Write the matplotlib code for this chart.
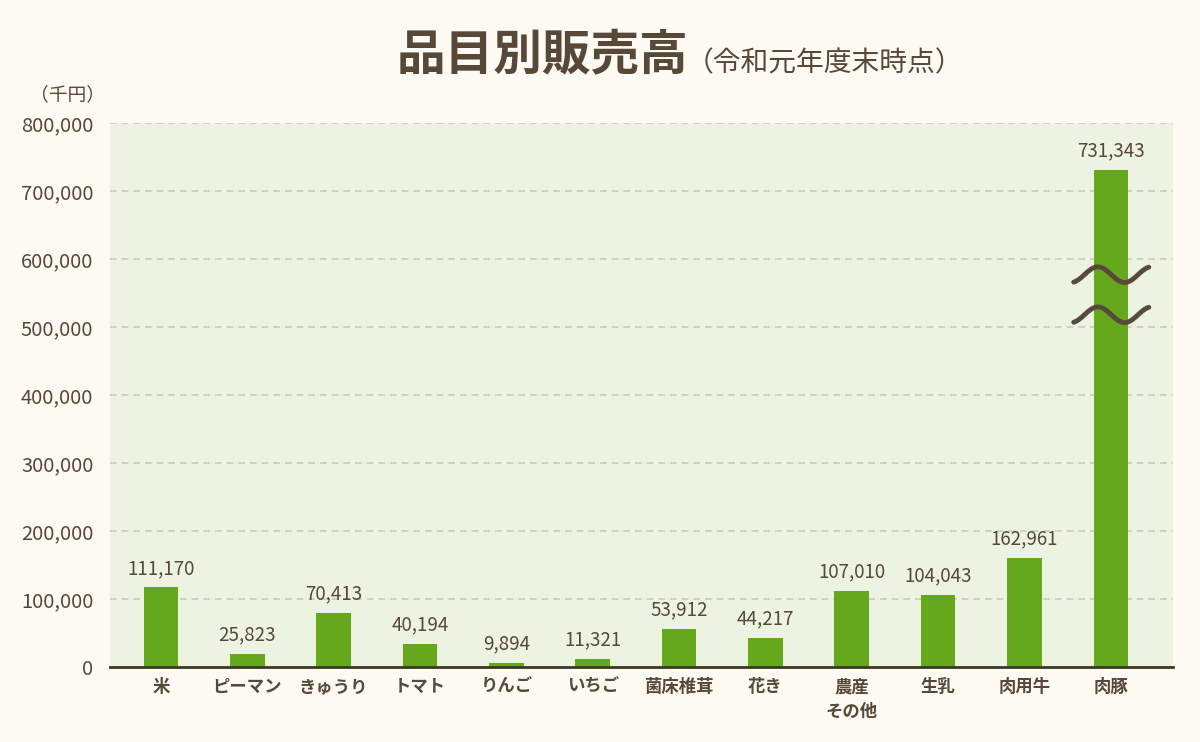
import matplotlib
matplotlib.use('Agg')
import matplotlib.pyplot as plt
import numpy as np

plt.rcParams['font.family'] = ['Noto Sans CJK JP', 'DejaVu Sans']

# data
categories = ['米', 'ピーマン', 'きゅうり', 'トマト', 'りんご', 'いちご',
              '菌床椎茸', '花き', '農産\nその他', '生乳', '肉用牛', '肉豚']
# bar heights as drawn in the picture (千円)
bar_heights = [117000, 19500, 79500, 34000, 6000, 12000,
               56000, 43000, 112000, 106000, 160500, 731343]
# values printed above the bars
label_values = [111170, 25823, 70413, 40194, 9894, 11321,
                53912, 44217, 107010, 104043, 162961, 731343]
yticks = [0, 100000, 200000, 300000, 400000, 500000, 600000, 700000, 800000]
break_levels = [577000, 518000]

TEXT = '#574838'
BAR = '#65a81b'
PLOT_BG = '#edf3e1'
FIG_BG = '#fdfaf3'

fig = plt.figure(figsize=(12, 7.42), dpi=100, facecolor=FIG_BG)
ax = fig.add_axes([110 / 1200, 75 / 742, 1063 / 1200, 544 / 742])
ax.set_facecolor(PLOT_BG)

x = np.arange(len(categories))
ax.bar(x, bar_heights, width=0.40, color=BAR, zorder=3)

for xi, h, v in zip(x, bar_heights, label_values):
    ax.annotate(f'{v:,}', (xi, h), xytext=(0, 6), textcoords='offset points',
                ha='center', va='bottom', fontsize=13.5, color=TEXT, zorder=5)

# break marks on the tallest bar
imax = int(np.argmax(bar_heights))
theta = np.linspace(-1.26, 7.54, 100)
tx = imax + (theta - theta[0]) / (theta[-1] - theta[0]) * 0.87 - 0.43
for lvl in break_levels:
    ty = lvl + np.sin(theta) * 11500
    ax.plot(tx, ty, color='#574a3c', lw=3.5, solid_capstyle='round', zorder=6)

ax.set_xlim(-0.59, 11.72)
ax.set_ylim(0, 800000)
ax.set_yticks(yticks)
ax.set_yticklabels([f'{t:,}' for t in yticks])
ax.set_xticks(x)
ax.set_xticklabels(categories, fontweight='bold', linespacing=1.5)
ax.tick_params(axis='y', length=0, pad=12, labelsize=14.5, labelcolor=TEXT)
ax.tick_params(axis='x', length=0, pad=8, labelsize=12.5, labelcolor=TEXT)
for lbl in ax.get_xticklabels():
    lbl.set_verticalalignment('top')

ax.grid(axis='y', color='#c9cbc0', linestyle=(0, (4, 3)), lw=1.2, zorder=1)
for s in ['top', 'right', 'left']:
    ax.spines[s].set_visible(False)
ax.spines['bottom'].set_color('#3a3a26')
ax.spines['bottom'].set_linewidth(2)
ax.spines['bottom'].set_zorder(4)

fig.text(30 / 1200, 1 - 95 / 742, '（千円）', fontsize=13.5, color=TEXT,
         ha='left', va='center')
fig.text(688 / 1200, 1 - 56 / 742, '品目別販売高', fontsize=35,
         fontweight='bold', color=TEXT, ha='right', va='center')
fig.text(686 / 1200, 1 - 63 / 742, '（令和元年度末時点）', fontsize=20,
         color=TEXT, ha='left', va='center')

fig.savefig('out.png', dpi=100, facecolor=FIG_BG)
